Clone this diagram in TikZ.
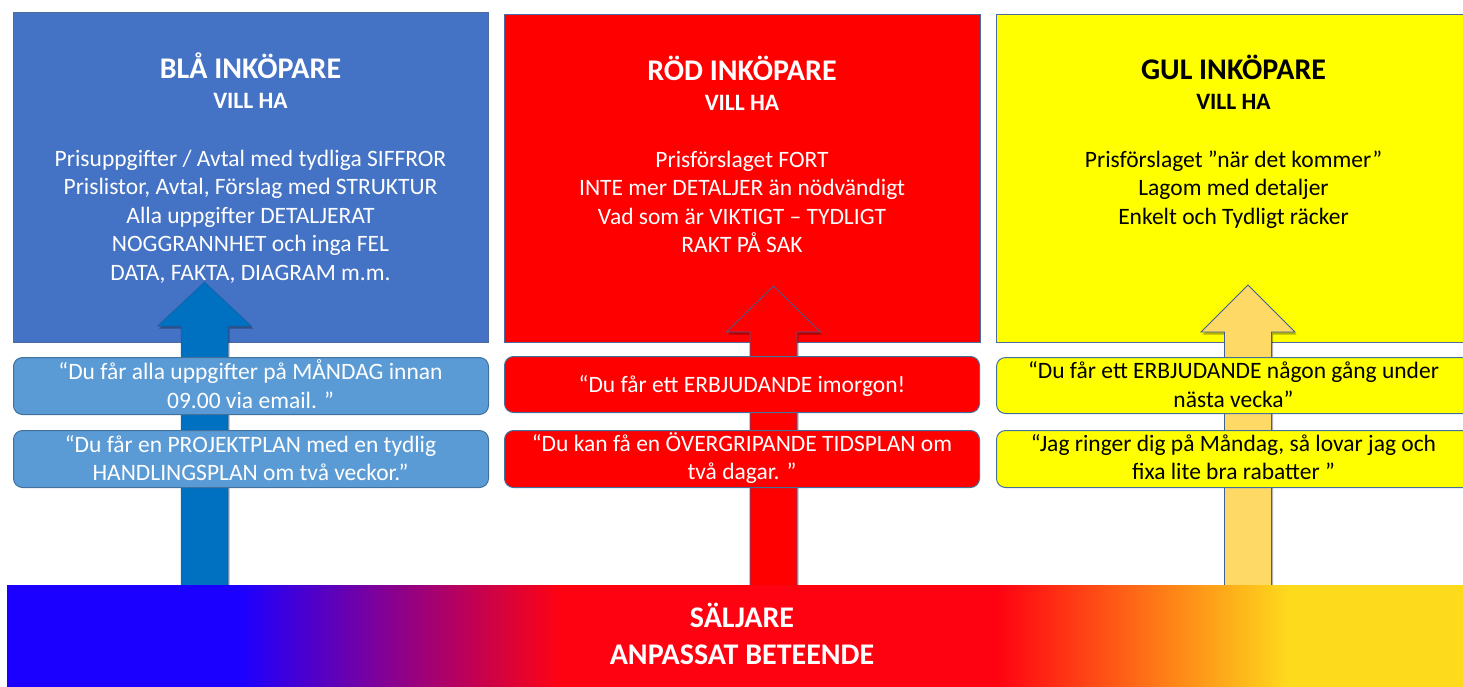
\documentclass[tikz,border=0pt]{standalone}
\usepackage{fontspec}
\setmainfont{Carlito}
\usetikzlibrary{shadows}

\definecolor{bluefill}{HTML}{4472C4}
\definecolor{redfill}{HTML}{FF0000}
\definecolor{yellowfill}{HTML}{FFFF00}
\definecolor{boxedge}{HTML}{4F6AA0}
\definecolor{bluequote}{HTML}{5B9BD5}
\definecolor{quoteedge}{HTML}{41719C}
\definecolor{bluearrow}{HTML}{0070C0}
\definecolor{bluearrowedge}{HTML}{1C5EA0}
\definecolor{yellowarrow}{HTML}{FFD966}
\definecolor{arrowedge}{HTML}{3F5F95}
\definecolor{barblue}{HTML}{1C00FF}
\definecolor{barred}{HTML}{FF0212}
\definecolor{baryellow}{HTML}{FDDA1C}

% blue -> red -> yellow band across the seller bar
\pgfdeclarehorizontalshading{sellerbar}{100bp}{%
  color(0bp)=(barblue); color(33bp)=(barblue);
  color(44bp)=(barred); color(59bp)=(barred);
  color(69bp)=(baryellow); color(100bp)=(baryellow)}

% block arrow: style, centre x, tip y, head base y
\newcommand{\sellerarrow}[4]{%
  \path[#1] (#2-23.5,590) -- (#2-23.5,#4) -- (#2-47,#4) -- (#2,#3)
    -- (#2+47,#4) -- (#2+23.5,#4) -- (#2+23.5,590) -- cycle;}

\begin{document}
\begin{tikzpicture}[x=1pt,y=-1pt,
  mainbox/.style={draw=boxedge, line width=0.9pt, anchor=north west, inner sep=0pt},
  quotebox/.style={draw=quoteedge, line width=1pt, rounded corners=9pt,
    anchor=north west, inner sep=0pt},
  titletext/.style={anchor=base, font=\fontsize{30}{36}\selectfont\bfseries},
  subtext/.style={anchor=base, font=\fontsize{23.5}{28}\selectfont\bfseries},
  bodytext/.style={anchor=base, font=\fontsize{23.5}{28}\selectfont},
  bartext/.style={anchor=base, text=white, font=\fontsize{30}{36}\selectfont\bfseries},
  arrowshadow/.style={drop shadow={shadow xshift=1.5pt, shadow yshift=-2.5pt,
    opacity=0.3, fill=black}}
]
\useasboundingbox (0,0) rectangle (1463,686);
\clip (0,0) rectangle (1463,686);

% buyer panels (the yellow one runs past the right edge)
\node[mainbox, fill=bluefill, minimum width=475pt, minimum height=330pt] (blue) at (13,12) {};
\node[mainbox, fill=redfill, minimum width=476pt, minimum height=328pt] (red) at (504,14) {};
\node[mainbox, fill=yellowfill, minimum width=490pt, minimum height=328pt] (yellow) at (996,14) {};

% panel headings
\node[titletext, text=white] (bt) at (250.5,78) {BLÅ INKÖPARE};
\node[subtext, text=white] (bv) at (250.5,108) {VILL HA};
\node[titletext, text=white] (rt) at (742,80) {RÖD INKÖPARE};
\node[subtext, text=white] (rv) at (742,110) {VILL HA};
\node[titletext, text=black] (yt) at (1233.5,79) {GUL INKÖPARE};
\node[subtext, text=black] (yv) at (1233.5,109) {VILL HA};

% panel bodies
\foreach \t [count=\i] in {Prisuppgifter / Avtal med tydliga SIFFROR,
    {Prislistor, Avtal, Förslag med STRUKTUR},
    Alla uppgifter DETALJERAT,
    NOGGRANNHET och inga FEL,
    {DATA, FAKTA, DIAGRAM m.m.}}
  \node[bodytext, text=white] (bb\i) at (250.5,{166+28.5*(\i-1)}) {\t};
\foreach \t [count=\i] in {Prisförslaget FORT,
    INTE mer DETALJER än nödvändigt,
    Vad som är VIKTIGT – TYDLIGT,
    RAKT PÅ SAK}
  \node[bodytext, text=white] (rb\i) at (742,{167+28.5*(\i-1)}) {\t};
\foreach \t [count=\i] in {Prisförslaget ”när det kommer”,
    Lagom med detaljer,
    Enkelt och Tydligt räcker}
  \node[bodytext, text=black] (yb\i) at (1233.5,{167+28.5*(\i-1)}) {\t};

% block arrows from the seller bar up into each panel
\sellerarrow{fill=bluearrow, draw=bluearrowedge, line width=0.5pt, arrowshadow}{204.5}{282}{326}
\sellerarrow{fill=redfill, draw=arrowedge, line width=0.8pt, arrowshadow}{773.5}{286}{332}
\sellerarrow{fill=yellowarrow, draw=arrowedge, line width=0.8pt, arrowshadow}{1248}{285}{332}

% promise boxes
\node[quotebox, fill=bluequote, minimum width=475pt, minimum height=57pt] (bq1) at (13,357) {};
\node[quotebox, fill=bluequote, minimum width=475pt, minimum height=57pt] (bq2) at (13,430) {};
\node[quotebox, fill=redfill, minimum width=475pt, minimum height=56pt] (rq1) at (504,356) {};
\node[quotebox, fill=redfill, minimum width=475pt, minimum height=57pt] (rq2) at (504,430) {};
\node[quotebox, fill=yellowfill, minimum width=490pt, minimum height=56pt] (yq1) at (996,357) {};
\node[quotebox, fill=yellowfill, minimum width=490pt, minimum height=57pt] (yq2) at (996,430) {};

\node[bodytext, text=white] (bq1a) at (250.5,379) {“Du får alla uppgifter på MÅNDAG innan};
\node[bodytext, text=white] (bq1b) at (250.5,408) {09.00 via email. ”};
\node[bodytext, text=white] (bq2a) at (250.5,452) {“Du får en PROJEKTPLAN med en tydlig};
\node[bodytext, text=white] (bq2b) at (250.5,480) {HANDLINGSPLAN om två veckor.”};

\node[bodytext, text=white] (rq1a) at (742,392) {“Du får ett ERBJUDANDE imorgon!};
\node[bodytext, text=white] (rq2a) at (742,451) {“Du kan få en ÖVERGRIPANDE TIDSPLAN om};
\node[bodytext, text=white] (rq2b) at (742,479) {två dagar. ”};

\node[bodytext, text=black] (yq1a) at (1233.5,378) {“Du får ett ERBJUDANDE någon gång under};
\node[bodytext, text=black] (yq1b) at (1233.5,407) {nästa vecka”};
\node[bodytext, text=black] (yq2a) at (1233.5,451) {“Jag ringer dig på Måndag, så lovar jag och};
\node[bodytext, text=black] (yq2b) at (1233.5,479) {fixa lite bra rabatter ”};

% seller bar
\path[shading=sellerbar] (7,585) rectangle (1463,686);
\node[bartext] (s1) at (742,627) {SÄLJARE};
\node[bartext] (s2) at (742,664) {ANPASSAT BETEENDE};
\end{tikzpicture}
\end{document}
